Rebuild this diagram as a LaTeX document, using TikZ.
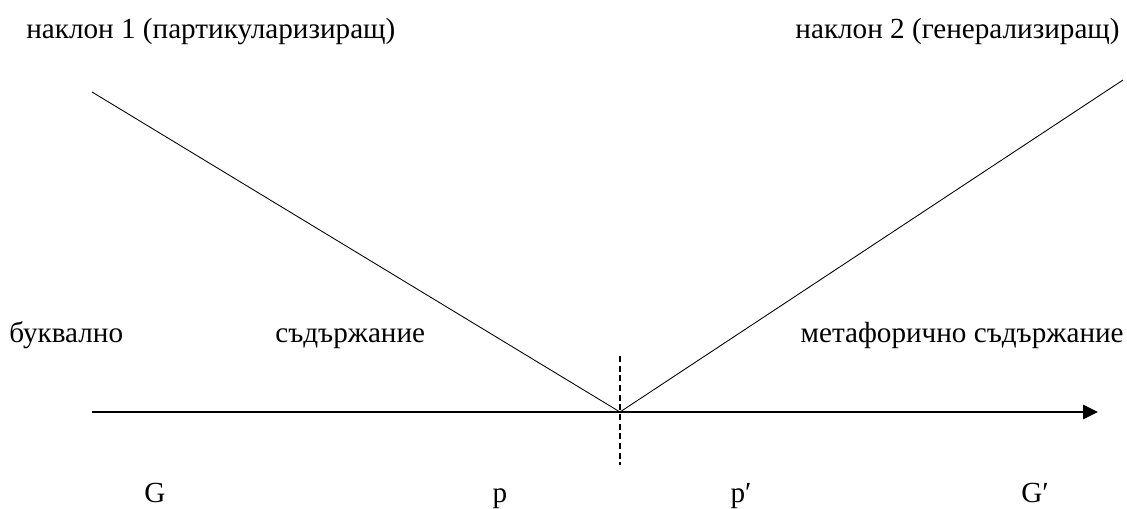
\documentclass[tikz,border=0pt]{standalone}
\usepackage{fontspec}
\setmainfont{Liberation Serif}
\usepackage{tikz}
\usetikzlibrary{arrows.meta, positioning}
\tikzstyle{arrow}=[-{Triangle[length=0.3cm, width=0.28cm]}, line width=1.6pt, color=black]

\begin{document}
\begin{tikzpicture}[x=0.02cm, y=-0.02cm,
  lbl/.style={inner sep=0pt, font=\fontsize{16.6}{20}\selectfont},
  slope/.style={line width=0.5pt, color=black},
  divider/.style={line width=0.6pt, dash pattern=on 3.5pt off 2pt}
]
\useasboundingbox (0,0) rectangle (1127,509);
% Axis and vertex
\coordinate (axis_start) at (92,412);
\coordinate (vertex) at (620,412);
\coordinate (axis_end) at (1098,412);
\coordinate (top_left) at (92,92);
\coordinate (top_right) at (1123,80);
\coordinate (div_top) at (620,356);
\coordinate (div_bot) at (620,465);

% Slope labels
\node[lbl, anchor=base west] (slope_one) at (26,39) {наклон 1 (партикуларизиращ)};
\node[lbl, anchor=base east] (slope_two) at (1120,39) {наклон 2 (генерализиращ)};

% Content labels
\node[lbl, anchor=base west] (literal) at (9,343) {буквално};
\node[lbl, anchor=base west] (content) at (275,343) {съдържание};
\node[lbl, anchor=base east] (metaphor) at (1124,343) {метафорично съдържание};

% Points on the axis
\node[lbl, anchor=base] (big_g) at (155,503) {G};
\node[lbl, anchor=base] (small_p) at (500,503) {p};
\node[lbl, anchor=base] (small_pp) at (741,503) {p′};
\node[lbl, anchor=base] (big_gp) at (1035,503) {G′};

\draw[slope] (top_left) -- (vertex);
\draw[slope] (vertex) -- (top_right);
\draw[divider] (div_top) -- (div_bot);
\draw[arrow] (axis_start) -- (axis_end);
\end{tikzpicture}
\end{document}
